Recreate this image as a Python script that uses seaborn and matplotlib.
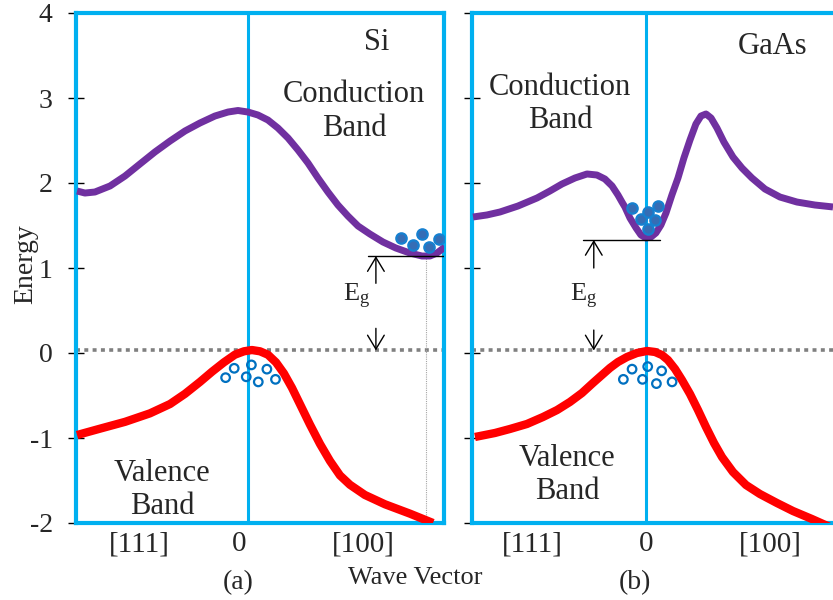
import matplotlib.pyplot as plt
import seaborn as sns

# ---------------------------------------------------------------
# Values.
# k = wave vector (0 = zone centre, -1 = [111] side edge of the box)
# E = energy in eV
# ---------------------------------------------------------------

# (a) Si
si_cb_k = [-0.994, -0.948, -0.890, -0.802, -0.715, -0.628, -0.541, -0.453, -0.366,
           -0.279, -0.192, -0.116, -0.058, 0.0, 0.058, 0.116, 0.174, 0.233, 0.291,
           0.349, 0.407, 0.465, 0.523, 0.581, 0.640, 0.709, 0.785, 0.860, 0.942,
           1.012, 1.058, 1.099, 1.145]
si_cb_e = [1.906, 1.882, 1.894, 1.965, 2.082, 2.224, 2.365, 2.494, 2.612,
           2.706, 2.788, 2.835, 2.853, 2.835, 2.800, 2.741, 2.647, 2.529, 2.388,
           2.235, 2.059, 1.894, 1.741, 1.612, 1.494, 1.400, 1.306, 1.235, 1.176,
           1.141, 1.141, 1.176, 1.247]
si_vb_k = [-0.994, -0.860, -0.715, -0.570, -0.453, -0.366, -0.279, -0.209, -0.140,
           -0.076, -0.023, 0.023, 0.070, 0.116, 0.163, 0.209, 0.256, 0.302, 0.360,
           0.419, 0.477, 0.535, 0.593, 0.680, 0.797, 0.942, 1.076]
si_vb_e = [-0.965, -0.89, -0.81, -0.71, -0.60, -0.48, -0.34, -0.22, -0.11,
           -0.02, 0.02, 0.035, 0.02, -0.02, -0.11, -0.24, -0.41, -0.60, -0.84,
           -1.07, -1.27, -1.44, -1.55, -1.67, -1.78, -1.89, -2.0]
si_holes_k = [-0.13, -0.08, -0.01, 0.02, 0.06, 0.11, 0.16]
si_holes_e = [-0.29, -0.18, -0.28, -0.14, -0.34, -0.19, -0.31]
si_elec_k = [0.89, 0.96, 1.01, 1.05, 1.11]
si_elec_e = [1.35, 1.27, 1.40, 1.25, 1.34]
si_cbm_k, si_cbm_e = 1.035, 1.14

# (b) GaAs
gaas_cb_k = [-0.994, -0.914, -0.839, -0.736, -0.626, -0.552, -0.483, -0.408, -0.339,
             -0.282, -0.236, -0.195, -0.161, -0.138, -0.121, -0.092, -0.057, -0.029,
             0.0, 0.029, 0.057, 0.086, 0.115, 0.149, 0.184, 0.218, 0.253, 0.287,
             0.316, 0.345, 0.374, 0.408, 0.448, 0.500, 0.552, 0.609, 0.684, 0.770,
             0.868, 0.971, 1.075]
gaas_cb_e = [1.600, 1.624, 1.659, 1.729, 1.824, 1.906, 1.988, 2.059, 2.106,
             2.094, 2.047, 1.965, 1.859, 1.776, 1.718, 1.588, 1.471, 1.388,
             1.353, 1.365, 1.412, 1.506, 1.647, 1.859, 2.059, 2.294, 2.506, 2.694,
             2.788, 2.812, 2.765, 2.647, 2.482, 2.306, 2.176, 2.059, 1.929, 1.835,
             1.776, 1.741, 1.718]
gaas_vb_k = [-0.983, -0.868, -0.782, -0.684, -0.592, -0.511, -0.437, -0.368, -0.305,
             -0.253, -0.207, -0.161, -0.109, -0.052, 0.006, 0.052, 0.092, 0.126,
             0.167, 0.207, 0.253, 0.299, 0.345, 0.391, 0.437, 0.500, 0.575, 0.655,
             0.753, 0.845, 0.954, 1.057]
gaas_vb_e = [-0.988, -0.941, -0.894, -0.835, -0.753, -0.671, -0.576, -0.471, -0.353,
             -0.259, -0.176, -0.106, -0.047, 0.0, 0.024, 0.012, -0.024, -0.082,
             -0.188, -0.318, -0.482, -0.671, -0.871, -1.059, -1.224, -1.400, -1.553,
             -1.659, -1.765, -1.859, -1.953, -2.047]
gaas_holes_k = [-0.13, -0.08, -0.02, 0.01, 0.06, 0.09, 0.15]
gaas_holes_e = [-0.31, -0.19, -0.31, -0.16, -0.36, -0.21, -0.34]
gaas_elec_k = [-0.08, -0.03, 0.01, 0.07, 0.05, 0.01]
gaas_elec_e = [1.71, 1.58, 1.66, 1.73, 1.56, 1.46]
gaas_cbm_e = 1.33

valence_top = 0.03
energy_ticks = [-2, -1, 0, 1, 2, 3, 4]
k_labels = ["[111]", "0", "[100]"]
si_k_ticks = [-0.63, -0.05, 0.67]
gaas_k_ticks = [-0.655, 0.0, 0.713]

# colours
BOX = "#00B0F0"
CB_COLOR = "#7030A0"
VB_COLOR = "#FF0000"
CARRIER = "#0070C0"

sns.set_style("white")
plt.rcParams["font.family"] = ["Liberation Serif", "DejaVu Serif"]
plt.rcParams["mathtext.fontset"] = "custom"
plt.rcParams["mathtext.rm"] = "Liberation Serif"
plt.rcParams["mathtext.it"] = "Liberation Serif"
plt.rcParams["axes.unicode_minus"] = False


def style_panel(ax, xlim, k_ticks, show_labels):
    ax.set_xlim(*xlim)
    ax.set_ylim(-2, 4)
    for s in ax.spines.values():
        s.set_color(BOX)
        s.set_linewidth(3)
    ax.spines["right"].set_visible(show_labels)
    ax.axvline(0, color=BOX, lw=2.2, zorder=1)
    ax.axhline(valence_top, color="#808080", lw=2.6, ls=(0, (1.1, 1.2)), zorder=1)
    ax.set_yticks(energy_ticks)
    ax.tick_params(axis="y", direction="inout", length=11.5, width=1.0,
                   color="black", pad=11, labelsize=20, left=True,
                   labelleft=show_labels)
    ax.set_xticks(k_ticks)
    ax.set_xticklabels(k_labels)
    ax.tick_params(axis="x", length=0, pad=6, labelsize=21)
    ax.grid(False)


def draw_bands(ax, cb_k, cb_e, vb_k, vb_e, holes, elecs):
    sns.lineplot(x=cb_k, y=cb_e, sort=False, estimator=None, color=CB_COLOR,
                 lw=5, ax=ax, solid_capstyle="butt", solid_joinstyle="round", zorder=3)
    sns.lineplot(x=vb_k, y=vb_e, sort=False, estimator=None, color=VB_COLOR,
                 lw=6, ax=ax, solid_capstyle="butt", solid_joinstyle="round", zorder=3)
    sns.scatterplot(x=holes[0], y=holes[1], s=38, facecolors="none",
                    edgecolors=CARRIER, linewidths=1.6, ax=ax, zorder=4)
    sns.scatterplot(x=elecs[0], y=elecs[1], s=56, facecolors="#356DB5",
                    edgecolors="#1680D0", linewidths=1.6, ax=ax, zorder=4)


def gap_marks(ax, k_arrow, e_cbm, k_line, e_tail_up, e_tail_down, k_text):
    ax.plot(k_line, [e_cbm, e_cbm], color="black", lw=1.0, zorder=3)
    arrow = dict(arrowstyle="->,head_length=0.5,head_width=0.3", mutation_scale=20,
                 lw=1.0, color="black", shrinkA=0, shrinkB=0)
    ax.annotate("", xy=(k_arrow, e_cbm), xytext=(k_arrow, e_tail_up), arrowprops=arrow)
    ax.annotate("", xy=(k_arrow, valence_top), xytext=(k_arrow, e_tail_down),
                arrowprops=arrow)
    ax.text(k_text, 0.66, r"$\mathrm{E_g}$", ha="center", va="center", fontsize=19)


fig = plt.figure(figsize=(8.33, 6.0), dpi=100)
ax_si = fig.add_axes([76 / 833, 77 / 600, 368 / 833, 510 / 600])
ax_gaas = fig.add_axes([472 / 833, 77 / 600, 361 / 833, 510 / 600])

# ---- (a) Si
style_panel(ax_si, (-1, 1.14), si_k_ticks, True)
draw_bands(ax_si, si_cb_k, si_cb_e, si_vb_k, si_vb_e,
           (si_holes_k, si_holes_e), (si_elec_k, si_elec_e))
gap_marks(ax_si, 0.744, si_cbm_e, [0.70, 1.14], 0.82, 0.29, 0.634)
ax_si.plot([si_cbm_k, si_cbm_k], [si_cbm_e, -2], color="#A6A6A6", lw=0.8,
           ls=(0, (1, 1)), zorder=1)
ax_si.text(0.75, 3.65, "Si", ha="center", va="center", fontsize=22)
ax_si.text(0.616, 2.84, "Conduction\nBand", ha="center", va="center", fontsize=22)
ax_si.text(-0.50, -1.61, "Valence\nBand", ha="center", va="center", fontsize=22)
ax_si.set_ylabel("Energy", fontsize=20)
ax_si.yaxis.set_label_coords(-0.102, 0.508)
ax_si.set_xlabel("(a)", fontsize=20)
ax_si.xaxis.set_label_coords(0.44, -0.092)

# ---- (b) GaAs
style_panel(ax_gaas, (-1, 1.075), gaas_k_ticks, False)
draw_bands(ax_gaas, gaas_cb_k, gaas_cb_e, gaas_vb_k, gaas_vb_e,
           (gaas_holes_k, gaas_holes_e), (gaas_elec_k, gaas_elec_e))
gap_marks(ax_gaas, -0.30, gaas_cbm_e, [-0.362, 0.08], 1.0, 0.27, -0.356)
ax_gaas.text(0.73, 3.60, "GaAs", ha="center", va="center", fontsize=22)
ax_gaas.text(-0.494, 2.93, "Conduction\nBand", ha="center", va="center", fontsize=22)
ax_gaas.text(-0.454, -1.435, "Valence\nBand", ha="center", va="center", fontsize=22)
ax_gaas.set_xlabel("(b)", fontsize=20)
ax_gaas.xaxis.set_label_coords(0.4515, -0.092)

fig.text(415 / 833, 1 - 578 / 600, "Wave Vector", ha="center", va="center", fontsize=19)

fig.savefig("out.png", dpi=100)
